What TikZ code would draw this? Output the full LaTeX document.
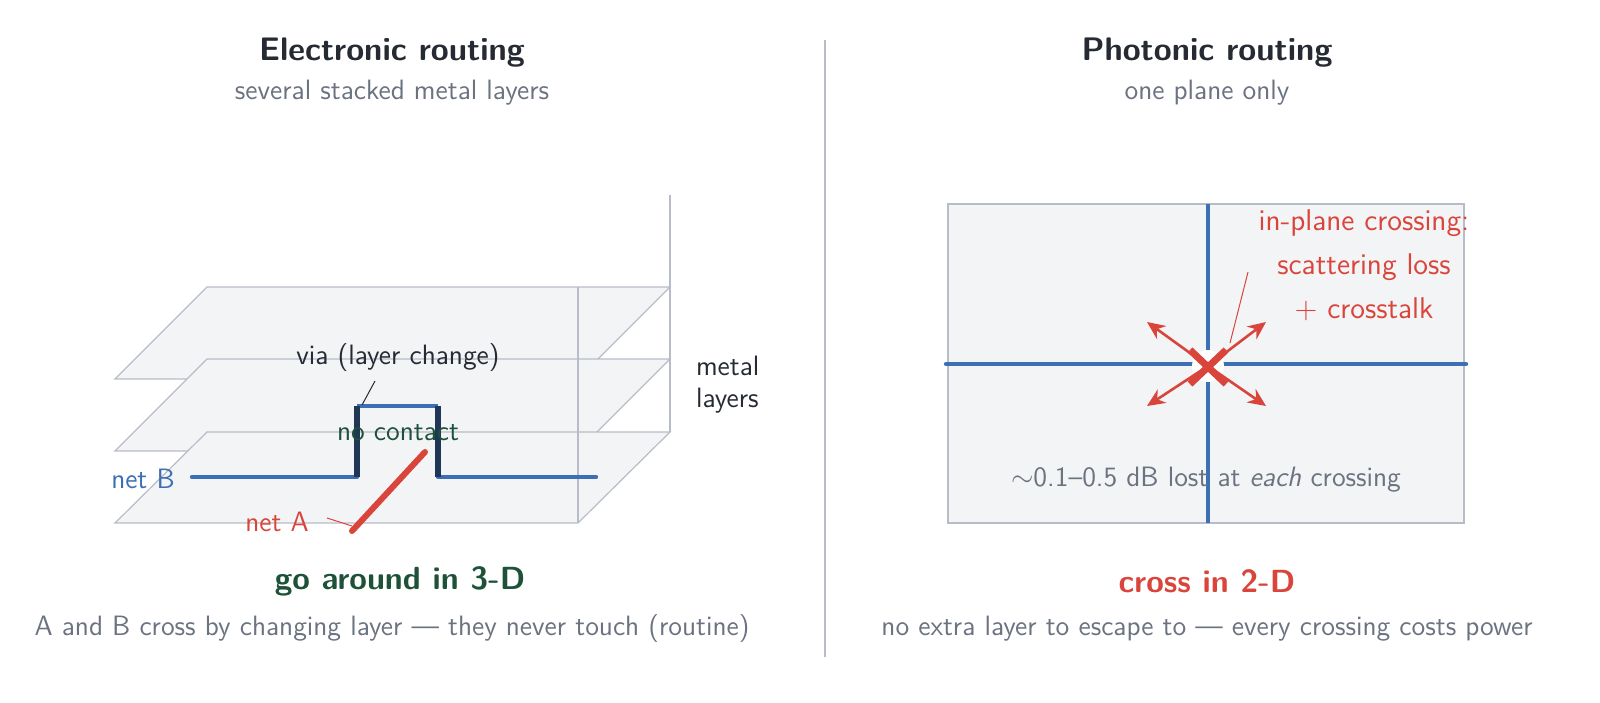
\documentclass[tikz,border=0pt]{standalone}
\usetikzlibrary{arrows.meta}
\begin{document}
\begin{tikzpicture}[x=0.5pt,y=-0.5pt,font=\sffamily\fontsize{14}{16}\selectfont,
  plane/.style={draw=edge,fill=planefill,line width=0.6pt},
  netb/.style={draw=netblue,line width=2.2pt,line cap=round},
  via/.style={draw=navy,line width=2.6pt},
  title/.style={font=\sffamily\bfseries\fontsize{16.3}{19}\selectfont,text=dark},
  sub/.style={text=grey},
  lead/.style={draw=#1,line width=0.5pt},
  sarrow/.style={draw=netred,line width=1.3pt,-{Stealth[length=9pt,width=8pt]}}]
\definecolor{dark}{HTML}{262A33}\definecolor{grey}{HTML}{6B7280}
\definecolor{netblue}{HTML}{3D6FB4}\definecolor{navy}{HTML}{1F3656}
\definecolor{netred}{HTML}{D9453B}\definecolor{dgreen}{HTML}{1D5238}
\definecolor{planefill}{HTML}{F3F4F6}\definecolor{edge}{HTML}{B8BCC8}
\useasboundingbox (0,0) rectangle (1600,702);
% divider
\draw[edge,line width=0.8pt] (825,40) -- (825,657);
% left titles
\node[title] (lt) at (392,53) {Electronic routing};
\node[sub] (ls) at (392,93) {several stacked metal layers};
% planes
\draw[edge,line width=0.8pt] (670,195) -- (670,432);
\draw[plane] (115,379) -- (578,379) -- (670,287) -- (207,287) -- cycle;
\draw[plane] (115,451) -- (578,451) -- (670,359) -- (207,359) -- cycle;
\draw[plane] (115,523) -- (578,523) -- (670,432) -- (207,432) -- cycle;
\draw[edge,line width=0.8pt] (578,287) -- (578,523);
% nets
\coordinate (b1) at (192,477); \coordinate (b2) at (357,477);
\coordinate (b3) at (357,406); \coordinate (b4) at (438,406);
\coordinate (b5) at (438,477); \coordinate (b6) at (596,477);
\draw[netb] (b1) -- (b2); \draw[netb] (b5) -- (b6);
\draw[netb,line cap=butt] (b3) -- (b4);
\draw[via] (b2) -- (b3); \draw[via] (b4) -- (b5);
\coordinate (a1) at (352,531); \coordinate (a2) at (425,452);
\draw[netred,line width=3pt,line cap=round] (a1) -- (a2);
\node[text=dgreen] (nc) at (398,433) {no contact};
\node[text=dark] (vl) at (398,358) {via (layer change)};
\coordinate (vt) at (362,405);
\draw[lead=dark] (375,381) -- (vt);
\node[text=netblue] (nb) at (143,479) {net B};
\node[text=netred] (na) at (277,522) {net A};
\coordinate (at) at (352,526);
\draw[lead=netred] (327,518) -- (at);
\node[text=dark,align=left,anchor=west] (ml) at (689,385) {metal\\layers};
\node[text=dgreen,font=\sffamily\bfseries\fontsize{16}{18}\selectfont] (g3) at (400,581) {go around in 3-D};
\node[sub] (lc) at (392,629) {A and B cross by changing layer --- they never touch (routine)};
% right
\node[title] (rt) at (1207,53) {Photonic routing};
\node[sub] (rs) at (1207,93) {one plane only};
\draw[plane] (948,204) rectangle (1464,523);
\coordinate (c) at (1208,366);
\draw[netb] (946,364) -- (1466,364);
\draw[netb,line cap=butt] (1208,204) -- (1208,523);
\fill[white] (c) circle (16);
\draw[sarrow] (c) -- (1147,322);
\draw[sarrow] (c) -- (1266,322);
\draw[sarrow] (c) -- (1147,406);
\draw[sarrow] (c) -- (1266,406);
\draw[netred,line width=3.5pt] (1190,350) -- (1226,384);
\draw[netred,line width=3.5pt] (1190,384) -- (1226,350);
\node[text=netred,align=center,font=\sffamily\fontsize{15}{22}\selectfont] (il) at (1364,265) {in-plane crossing:\\scattering loss\\+ crosstalk};
\coordinate (it) at (1230,343);
\draw[lead=netred] (1248,272) -- (it);
\node[sub] (db) at (1206,480) {$\sim$0.1--0.5 dB lost at \textit{each} crossing};
\node[text=netred,font=\sffamily\bfseries\fontsize{16}{18}\selectfont] (c2) at (1207,581) {cross in 2-D};
\node[sub] (rc) at (1207,629) {no extra layer to escape to --- every crossing costs power};
\end{tikzpicture}
\end{document}
